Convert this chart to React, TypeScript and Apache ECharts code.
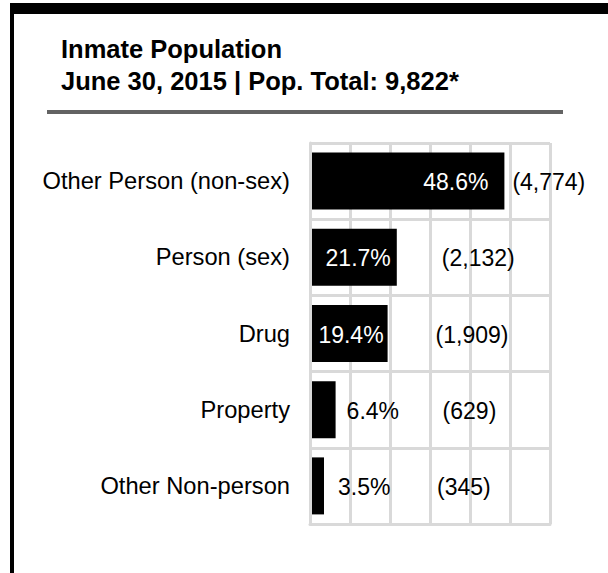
import React, { useEffect, useRef } from "react";
import * as echarts from "echarts";

const categories = [
  "Other Person (non-sex)",
  "Person (sex)",
  "Drug",
  "Property",
  "Other Non-person",
];
const percentages = [48.6, 21.7, 19.4, 6.4, 3.5];
const counts = [4774, 2132, 1909, 629, 345];
const axisMin = 0;
const axisMax = 60;
const axisInterval = 10;
const titleLine1 = "Inmate Population";
const titleLine2 = "June 30, 2015 | Pop. Total: 9,822*";

// label styling (not data)
const pctLabelStyle = [
  { position: "insideRight", dx: -11, color: "#fff" },
  { position: "insideRight", dx: -1, color: "#fff" },
  { position: "insideRight", dx: 1, color: "#fff" },
  { position: "right", dx: 6, color: "#000" },
  { position: "right", dx: 9, color: "#000" },
];
const countLabelDx = [3, 40, 43, 102, 108];

const FONT = '"Liberation Sans", Arial, Helvetica, sans-serif';

export default function App() {
  const ref = useRef<HTMLDivElement>(null);
  useEffect(() => {
    if (!ref.current) return;
    const chart = echarts.init(ref.current, null, { renderer: "svg" });
    const fmtCount = (n: number) => "(" + n.toLocaleString("en-US") + ")";
    chart.setOption({
      animation: false,
      backgroundColor: "#fff",
      grid: { left: 310, right: 58, top: 143, bottom: 49, containLabel: false },
      xAxis: {
        type: "value",
        min: axisMin,
        max: axisMax,
        interval: axisInterval,
        axisLabel: { show: false },
        axisTick: { show: false },
        axisLine: { show: true, lineStyle: { color: "#d9d9d9", width: 3 } },
        splitLine: { show: true, lineStyle: { color: "#d9d9d9", width: 3 } },
      },
      yAxis: {
        type: "category",
        data: categories,
        inverse: true,
        z: 3,
        axisTick: { show: false },
        axisLine: { show: true, lineStyle: { color: "#d9d9d9", width: 3 } },
        splitLine: { show: true, lineStyle: { color: "#d9d9d9", width: 3 } },
        axisLabel: {
          margin: 20,
          fontSize: 23.7,
          fontFamily: FONT,
          color: "#000",
        },
      },
      series: [
        {
          type: "bar",
          barWidth: 57,
          z: 2,
          itemStyle: { color: "#000" },
          data: percentages.map((v, i) => ({
            value: v,
            label: {
              show: true,
              position: pctLabelStyle[i].position,
              distance: 5,
              offset: [pctLabelStyle[i].dx, 1],
              color: pctLabelStyle[i].color,
              fontSize: 23,
              fontFamily: FONT,
              formatter: (p: any) => p.value.toFixed(1) + "%",
            },
          })),
        },
        {
          type: "bar",
          barWidth: 57,
          barGap: "-100%",
          z: 1,
          silent: true,
          itemStyle: { color: "rgba(0,0,0,0)" },
          data: percentages.map((v, i) => ({
            value: v,
            label: {
              show: true,
              position: "right",
              distance: 5,
              offset: [countLabelDx[i], 1],
              color: "#000",
              fontSize: 23,
              fontFamily: FONT,
              formatter: (p: any) => fmtCount(counts[p.dataIndex]),
            },
          })),
        },
      ],
      graphic: [
        { type: "rect", shape: { x: 10, y: 3, width: 598, height: 11 }, style: { fill: "#000" } },
        { type: "rect", shape: { x: 10, y: 3, width: 4, height: 570 }, style: { fill: "#000" } },
        { type: "rect", shape: { x: 47, y: 110, width: 516, height: 4 }, style: { fill: "#636363" } },
        {
          type: "text",
          x: 61,
          y: 49,
          style: {
            text: titleLine1,
            fontSize: 25.5,
            fontWeight: "bold",
            fontFamily: FONT,
            fill: "#000",
            align: "left",
            verticalAlign: "middle",
          },
        },
        {
          type: "text",
          x: 61,
          y: 81,
          style: {
            text: titleLine2,
            fontSize: 25.5,
            fontWeight: "bold",
            fontFamily: FONT,
            fill: "#000",
            align: "left",
            verticalAlign: "middle",
          },
        },
      ],
    });
    return () => chart.dispose();
  }, []);
  return (
    <div
      ref={ref}
      style={{ position: "fixed", left: 0, top: 0, width: 608, height: 573, background: "#fff" }}
    />
  );
}
